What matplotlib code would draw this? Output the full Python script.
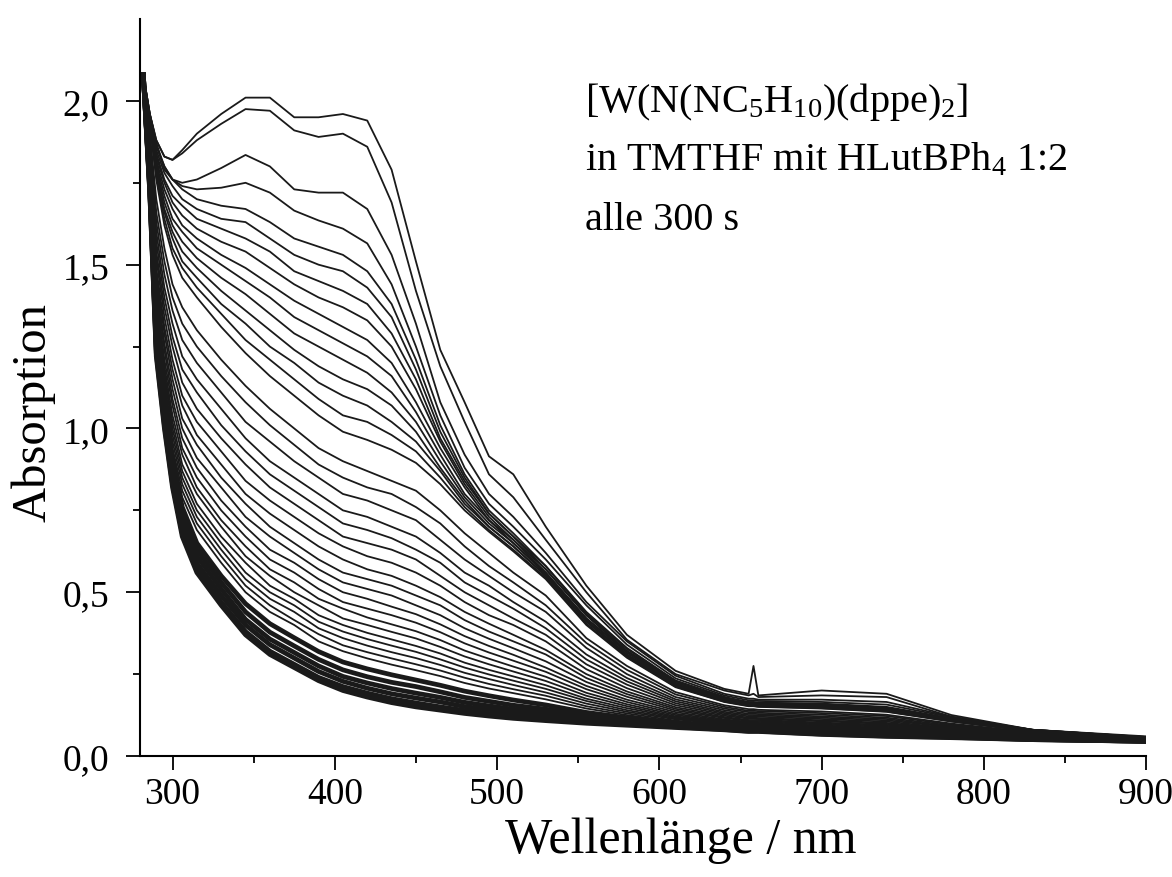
import matplotlib
matplotlib.use("Agg")
import matplotlib.pyplot as plt

plt.rcParams['font.family'] = ['Liberation Serif', 'DejaVu Serif']
plt.rcParams['mathtext.fontset'] = 'custom'
plt.rcParams['mathtext.rm'] = 'Liberation Serif'
plt.rcParams['mathtext.it'] = 'Liberation Serif:italic'

# wavelength grid (nm) shared by all spectra
wavelength = [282, 286, 290, 295, 300, 306, 315, 330, 345, 360, 375, 390, 405, 420,
              435, 450, 465, 480, 495, 510, 530, 555, 580, 610, 640, 655, 658, 661,
              700, 740, 780, 830, 900]

# first spectra (fast changes, well separated)
early_spectra = [
    [2.08, 1.96, 1.88, 1.83, 1.82, 1.85, 1.90, 1.96, 2.01, 2.01, 1.95, 1.95, 1.96, 1.94,
     1.79, 1.51, 1.24, 1.08, 0.915, 0.86, 0.70, 0.52, 0.37, 0.26, 0.205, 0.19, 0.275, 0.185,
     0.20, 0.19, 0.125, 0.08, 0.06],
    [2.08, 1.96, 1.88, 1.83, 1.82, 1.84, 1.88, 1.93, 1.975, 1.97, 1.91, 1.89, 1.90, 1.86,
     1.69, 1.42, 1.19, 1.02, 0.86, 0.79, 0.66, 0.50, 0.355, 0.25, 0.20, 0.185, 0.19, 0.18,
     0.185, 0.18, 0.12, 0.078, 0.058],
    [2.08, 1.96, 1.87, 1.80, 1.76, 1.75, 1.76, 1.795, 1.835, 1.80, 1.73, 1.72, 1.72, 1.67,
     1.53, 1.32, 1.08, 0.92, 0.80, 0.73, 0.62, 0.47, 0.35, 0.245, 0.19, 0.175, 0.175, 0.172,
     0.172, 0.165, 0.12, 0.08, 0.058],
    [2.08, 1.96, 1.87, 1.79, 1.76, 1.74, 1.73, 1.735, 1.75, 1.72, 1.665, 1.635, 1.61, 1.565,
     1.44, 1.25, 1.04, 0.88, 0.77, 0.70, 0.60, 0.46, 0.34, 0.237, 0.185, 0.17, 0.17, 0.168,
     0.165, 0.157, 0.118, 0.08, 0.057],
    [2.08, 1.95, 1.86, 1.80, 1.76, 1.73, 1.70, 1.68, 1.67, 1.63, 1.58, 1.555, 1.53, 1.48,
     1.38, 1.21, 1.01, 0.86, 0.75, 0.68, 0.58, 0.44, 0.33, 0.23, 0.18, 0.165, 0.165, 0.163,
     0.16, 0.15, 0.115, 0.08, 0.057],
]

# 400 nm band goes down, 500 nm shoulder stays
upper_spectra = [
    [2.08, 1.95, 1.85, 1.78, 1.74, 1.70, 1.67, 1.64, 1.63, 1.58, 1.53, 1.50, 1.48, 1.43,
     1.34, 1.18, 0.99, 0.85, 0.74, 0.67, 0.58, 0.435, 0.327, 0.228, 0.178, 0.164, 0.164, 0.162,
     0.158, 0.148, 0.114, 0.08, 0.057],
    [2.08, 1.95, 1.84, 1.76, 1.71, 1.68, 1.64, 1.61, 1.58, 1.54, 1.48, 1.45, 1.42, 1.38,
     1.29, 1.15, 0.97, 0.84, 0.74, 0.67, 0.57, 0.43, 0.32, 0.23, 0.18, 0.16, 0.16, 0.16,
     0.155, 0.147, 0.113, 0.079, 0.056],
    [2.08, 1.94, 1.83, 1.75, 1.69, 1.65, 1.61, 1.57, 1.54, 1.49, 1.44, 1.40, 1.37, 1.33,
     1.25, 1.12, 0.96, 0.83, 0.73, 0.66, 0.57, 0.43, 0.321, 0.224, 0.175, 0.161, 0.161, 0.159,
     0.155, 0.145, 0.112, 0.078, 0.056],
    [2.08, 1.94, 1.82, 1.73, 1.67, 1.62, 1.58, 1.53, 1.49, 1.44, 1.39, 1.35, 1.31, 1.27,
     1.20, 1.08, 0.94, 0.82, 0.72, 0.66, 0.56, 0.42, 0.32, 0.22, 0.17, 0.16, 0.16, 0.158,
     0.154, 0.144, 0.111, 0.078, 0.056],
    [2.08, 1.94, 1.81, 1.71, 1.64, 1.60, 1.55, 1.50, 1.45, 1.40, 1.34, 1.30, 1.26, 1.22,
     1.16, 1.05, 0.92, 0.80, 0.72, 0.65, 0.56, 0.42, 0.315, 0.22, 0.172, 0.158, 0.158, 0.156,
     0.152, 0.142, 0.11, 0.077, 0.056],
    [2.08, 1.94, 1.80, 1.69, 1.62, 1.57, 1.52, 1.46, 1.41, 1.35, 1.29, 1.25, 1.21, 1.17,
     1.11, 1.02, 0.90, 0.79, 0.71, 0.65, 0.555, 0.415, 0.31, 0.218, 0.171, 0.157, 0.157, 0.155,
     0.151, 0.141, 0.109, 0.077, 0.056],
    [2.08, 1.94, 1.79, 1.67, 1.60, 1.54, 1.49, 1.42, 1.36, 1.30, 1.24, 1.19, 1.15, 1.12,
     1.07, 0.99, 0.88, 0.78, 0.70, 0.64, 0.55, 0.412, 0.309, 0.216, 0.17, 0.156, 0.156, 0.154,
     0.15, 0.14, 0.108, 0.076, 0.056],
    [2.08, 1.93, 1.78, 1.66, 1.58, 1.51, 1.46, 1.38, 1.32, 1.25, 1.20, 1.14, 1.10, 1.07,
     1.02, 0.96, 0.87, 0.77, 0.70, 0.64, 0.55, 0.41, 0.306, 0.214, 0.168, 0.155, 0.155, 0.153,
     0.148, 0.138, 0.107, 0.076, 0.055],
    [2.08, 1.93, 1.77, 1.64, 1.55, 1.49, 1.43, 1.35, 1.27, 1.21, 1.15, 1.09, 1.04, 1.02,
     0.98, 0.93, 0.85, 0.76, 0.69, 0.63, 0.544, 0.404, 0.303, 0.212, 0.166, 0.153, 0.153, 0.151,
     0.146, 0.136, 0.106, 0.075, 0.055],
    [2.08, 1.93, 1.76, 1.62, 1.53, 1.46, 1.40, 1.31, 1.23, 1.16, 1.10, 1.04, 0.99, 0.965,
     0.935, 0.895, 0.83, 0.75, 0.685, 0.625, 0.54, 0.40, 0.30, 0.21, 0.165, 0.152, 0.152, 0.15,
     0.145, 0.135, 0.105, 0.075, 0.055],
]

# slower decay of what is left
lower_spectra = [
    [2.08, 1.90, 1.70, 1.55, 1.44, 1.37, 1.30, 1.21, 1.13, 1.06, 1.00, 0.94, 0.90, 0.87,
     0.84, 0.81, 0.75, 0.68, 0.62, 0.56, 0.49, 0.36, 0.275, 0.195, 0.155, 0.143, 0.143, 0.141,
     0.136, 0.126, 0.099, 0.072, 0.054],
    [2.08, 1.89, 1.66, 1.51, 1.40, 1.32, 1.25, 1.16, 1.08, 1.01, 0.95, 0.89, 0.85, 0.82,
     0.80, 0.76, 0.71, 0.64, 0.58, 0.53, 0.46, 0.345, 0.263, 0.188, 0.15, 0.138, 0.138, 0.137,
     0.131, 0.122, 0.096, 0.07, 0.053],
    [2.08, 1.88, 1.63, 1.47, 1.36, 1.27, 1.20, 1.11, 1.02, 0.96, 0.90, 0.85, 0.80, 0.78,
     0.75, 0.72, 0.66, 0.60, 0.55, 0.50, 0.44, 0.33, 0.25, 0.18, 0.145, 0.134, 0.134, 0.132,
     0.126, 0.117, 0.093, 0.069, 0.053],
    [2.08, 1.87, 1.60, 1.43, 1.32, 1.22, 1.15, 1.06, 0.97, 0.90, 0.85, 0.80, 0.75, 0.73,
     0.70, 0.67, 0.62, 0.56, 0.52, 0.47, 0.41, 0.31, 0.238, 0.173, 0.14, 0.129, 0.129, 0.128,
     0.121, 0.113, 0.09, 0.068, 0.052],
    [2.08, 1.86, 1.57, 1.40, 1.28, 1.18, 1.11, 1.01, 0.93, 0.86, 0.81, 0.76, 0.71, 0.69,
     0.665, 0.63, 0.59, 0.53, 0.49, 0.45, 0.39, 0.295, 0.228, 0.167, 0.135, 0.125, 0.125, 0.124,
     0.117, 0.109, 0.088, 0.066, 0.052],
    [2.08, 1.85, 1.54, 1.37, 1.25, 1.14, 1.06, 0.97, 0.89, 0.82, 0.77, 0.72, 0.67, 0.65,
     0.63, 0.60, 0.55, 0.50, 0.46, 0.42, 0.37, 0.28, 0.218, 0.161, 0.131, 0.121, 0.121, 0.12,
     0.113, 0.105, 0.085, 0.065, 0.051],
    [2.08, 1.84, 1.52, 1.34, 1.21, 1.10, 1.02, 0.93, 0.84, 0.78, 0.73, 0.68, 0.64, 0.61,
     0.59, 0.56, 0.52, 0.47, 0.43, 0.40, 0.35, 0.265, 0.207, 0.155, 0.127, 0.117, 0.117, 0.116,
     0.109, 0.101, 0.083, 0.064, 0.051],
    [2.08, 1.83, 1.49, 1.31, 1.18, 1.07, 0.98, 0.89, 0.80, 0.74, 0.69, 0.64, 0.60, 0.57,
     0.55, 0.52, 0.485, 0.44, 0.404, 0.37, 0.324, 0.25, 0.197, 0.149, 0.123, 0.114, 0.114, 0.113,
     0.106, 0.098, 0.081, 0.063, 0.05],
    [2.08, 1.82, 1.47, 1.29, 1.15, 1.03, 0.95, 0.85, 0.77, 0.70, 0.65, 0.60, 0.56, 0.54,
     0.52, 0.49, 0.46, 0.415, 0.38, 0.35, 0.31, 0.238, 0.189, 0.144, 0.119, 0.11, 0.11, 0.11,
     0.102, 0.095, 0.079, 0.062, 0.05],
    [2.08, 1.81, 1.45, 1.26, 1.12, 1.00, 0.91, 0.82, 0.73, 0.67, 0.62, 0.57, 0.53, 0.51,
     0.49, 0.46, 0.43, 0.39, 0.358, 0.329, 0.289, 0.226, 0.181, 0.139, 0.116, 0.107, 0.107, 0.107,
     0.099, 0.092, 0.077, 0.061, 0.049],
    [2.08, 1.80, 1.43, 1.24, 1.09, 0.97, 0.88, 0.78, 0.70, 0.63, 0.59, 0.54, 0.50, 0.48,
     0.456, 0.433, 0.402, 0.366, 0.336, 0.309, 0.27, 0.214, 0.172, 0.134, 0.112, 0.104, 0.104, 0.104,
     0.096, 0.089, 0.075, 0.06, 0.049],
    [2.08, 1.79, 1.41, 1.21, 1.07, 0.94, 0.85, 0.75, 0.67, 0.60, 0.56, 0.51, 0.47, 0.45,
     0.43, 0.407, 0.378, 0.344, 0.316, 0.291, 0.257, 0.204, 0.165, 0.129, 0.109, 0.102, 0.102, 0.101,
     0.093, 0.086, 0.073, 0.059, 0.049],
    [2.08, 1.79, 1.39, 1.19, 1.04, 0.92, 0.82, 0.72, 0.64, 0.57, 0.53, 0.48, 0.45, 0.423,
     0.402, 0.381, 0.354, 0.322, 0.297, 0.273, 0.242, 0.193, 0.158, 0.125, 0.106, 0.099, 0.099, 0.098,
     0.09, 0.083, 0.071, 0.058, 0.048],
    [2.08, 1.78, 1.37, 1.17, 1.02, 0.89, 0.80, 0.70, 0.61, 0.55, 0.50, 0.46, 0.42, 0.40,
     0.379, 0.359, 0.333, 0.304, 0.28, 0.258, 0.229, 0.184, 0.152, 0.121, 0.104, 0.097, 0.097, 0.096,
     0.088, 0.081, 0.07, 0.057, 0.048],
    [2.08, 1.77, 1.36, 1.16, 1.00, 0.87, 0.77, 0.67, 0.59, 0.52, 0.48, 0.43, 0.40, 0.376,
     0.356, 0.336, 0.313, 0.285, 0.263, 0.243, 0.216, 0.175, 0.146, 0.118, 0.101, 0.094, 0.094, 0.094,
     0.086, 0.079, 0.068, 0.056, 0.048],
    [2.08, 1.77, 1.34, 1.14, 0.98, 0.85, 0.75, 0.65, 0.56, 0.50, 0.46, 0.41, 0.38, 0.357,
     0.337, 0.318, 0.295, 0.27, 0.249, 0.23, 0.205, 0.168, 0.14, 0.115, 0.099, 0.092, 0.092, 0.092,
     0.084, 0.077, 0.067, 0.056, 0.047],
    [2.08, 1.76, 1.33, 1.12, 0.96, 0.83, 0.73, 0.63, 0.54, 0.48, 0.44, 0.39, 0.36, 0.337,
     0.317, 0.299, 0.278, 0.254, 0.235, 0.217, 0.194, 0.16, 0.135, 0.112, 0.097, 0.09, 0.09, 0.09,
     0.082, 0.075, 0.066, 0.055, 0.047],
    [2.08, 1.76, 1.32, 1.11, 0.94, 0.81, 0.71, 0.61, 0.52, 0.46, 0.415, 0.372, 0.338, 0.317,
     0.298, 0.28, 0.261, 0.239, 0.22, 0.204, 0.184, 0.152, 0.13, 0.108, 0.095, 0.088, 0.088, 0.088,
     0.08, 0.073, 0.065, 0.054, 0.047],
    [2.08, 1.75, 1.30, 1.09, 0.93, 0.79, 0.69, 0.59, 0.50, 0.44, 0.40, 0.35, 0.32, 0.298,
     0.279, 0.262, 0.244, 0.223, 0.206, 0.192, 0.173, 0.145, 0.125, 0.105, 0.093, 0.087, 0.087, 0.086,
     0.078, 0.071, 0.063, 0.054, 0.047],
]

# last spectra, nearly on top of each other (dark band)
final_spectra = [
    [2.08, 1.74, 1.28, 1.07, 0.90, 0.76, 0.65, 0.55, 0.465, 0.404, 0.361, 0.319, 0.287, 0.266,
     0.248, 0.232, 0.216, 0.198, 0.184, 0.171, 0.156, 0.133, 0.117, 0.10, 0.089, 0.083, 0.083, 0.083,
     0.075, 0.068, 0.061, 0.053, 0.046],
    [2.08, 1.737, 1.26, 1.05, 0.88, 0.73, 0.63, 0.53, 0.44, 0.378, 0.336, 0.295, 0.263, 0.242,
     0.225, 0.212, 0.196, 0.179, 0.167, 0.155, 0.143, 0.124, 0.11, 0.097, 0.087, 0.081, 0.081, 0.081,
     0.072, 0.066, 0.06, 0.052, 0.046],
    [2.08, 1.73, 1.25, 1.03, 0.86, 0.71, 0.61, 0.51, 0.417, 0.357, 0.316, 0.275, 0.243, 0.223,
     0.206, 0.192, 0.179, 0.164, 0.153, 0.143, 0.132, 0.117, 0.105, 0.094, 0.085, 0.079, 0.079, 0.079,
     0.07, 0.064, 0.059, 0.051, 0.045],
    [2.08, 1.73, 1.24, 1.02, 0.845, 0.698, 0.589, 0.49, 0.40, 0.34, 0.299, 0.258, 0.228, 0.207,
     0.19, 0.177, 0.165, 0.151, 0.142, 0.133, 0.123, 0.11, 0.101, 0.091, 0.083, 0.078, 0.078, 0.078,
     0.069, 0.063, 0.058, 0.051, 0.045],
    [2.08, 1.72, 1.23, 1.01, 0.83, 0.68, 0.57, 0.47, 0.38, 0.32, 0.28, 0.24, 0.212, 0.192,
     0.175, 0.162, 0.15, 0.139, 0.13, 0.123, 0.114, 0.105, 0.097, 0.089, 0.081, 0.076, 0.076, 0.076,
     0.067, 0.061, 0.057, 0.05, 0.045],
    [2.08, 1.72, 1.22, 1.00, 0.82, 0.67, 0.56, 0.46, 0.37, 0.31, 0.27, 0.23, 0.20, 0.18,
     0.163, 0.15, 0.14, 0.13, 0.122, 0.115, 0.108, 0.10, 0.094, 0.087, 0.08, 0.075, 0.075, 0.075,
     0.066, 0.06, 0.056, 0.05, 0.045],
]

x_ticks = [300, 400, 500, 600, 700, 800, 900]
x_ticklabels = ["300", "400", "500", "600", "700", "800", "900"]
y_ticks = [0.0, 0.5, 1.0, 1.5, 2.0]
y_ticklabels = ["0,0", "0,5", "1,0", "1,5", "2,0"]

fig = plt.figure(figsize=(11.72, 8.78), dpi=100)
ax = fig.add_axes([0.1195, 0.1378, 0.8585, 0.8394])

line_col = '#1a1a1a'
for spec in final_spectra:
    ax.plot(wavelength, spec, color=line_col, lw=3.4, solid_joinstyle='round')
for spec in lower_spectra + upper_spectra + early_spectra:
    ax.plot(wavelength, spec, color=line_col, lw=1.3, solid_joinstyle='round')

ax.set_xlim(280, 900)
ax.set_ylim(0, 2.25)

ax.set_xticks(x_ticks)
ax.set_xticklabels(x_ticklabels)
ax.set_yticks(y_ticks)
ax.set_yticklabels(y_ticklabels)
ax.set_xticks([350, 450, 550, 650, 750, 850], minor=True)
ax.set_yticks([0.25, 0.75, 1.25, 1.75], minor=True)
ax.tick_params(which='major', direction='out', length=10, width=1.3, labelsize=27)
ax.tick_params(axis='x', which='major', pad=5)
ax.tick_params(axis='y', which='major', pad=12)
ax.tick_params(which='minor', direction='out', length=5, width=1.3)

for s in ['top', 'right']:
    ax.spines[s].set_visible(False)
for s in ['left', 'bottom']:
    ax.spines[s].set_linewidth(1.5)

ax.set_xlabel("Wellenlänge / nm", fontsize=36)
ax.xaxis.set_label_coords(0.537, -0.082)
ax.set_ylabel("Absorption", fontsize=35)
ax.yaxis.set_label_coords(-0.084, 0.468)

fig.text(0.499, 0.872, r"[W(N(NC$_5$H$_{10}$)(dppe)$_2$]", fontsize=29, va='baseline')
fig.text(0.499, 0.806, r"in TMTHF mit HLutBPh$_4$ 1:2", fontsize=29, va='baseline')
fig.text(0.499, 0.738, "alle 300 s", fontsize=29, va='baseline')

fig.savefig("out.png", dpi=100)
